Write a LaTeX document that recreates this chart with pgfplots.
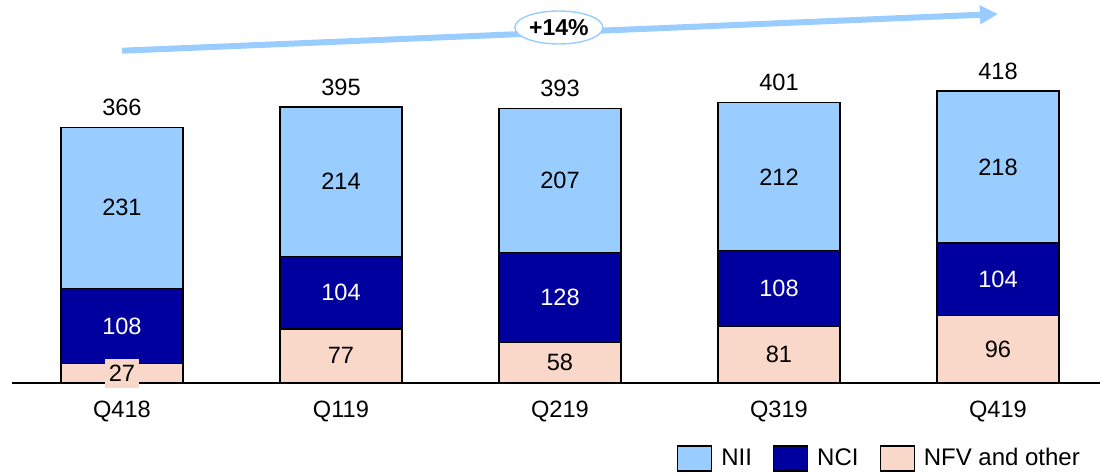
\documentclass[border=0pt]{standalone}
\usepackage{pgfplots}
\pgfplotsset{compat=1.18}
\usepackage{pgfplotstable}
\usepackage{fontspec}
\setmainfont{Liberation Sans}
\usetikzlibrary{arrows.meta,shapes.geometric}
\definecolor{nii}{RGB}{153,204,255}
\definecolor{nci}{RGB}{0,0,158}
\definecolor{nfv}{RGB}{250,216,201}
\definecolor{arr}{RGB}{153,204,255}
\pgfplotstableread{
x nfv nci nii total
0 27 108 231 366
1 77 104 214 395
2 58 128 207 393
3 81 108 212 401
4 96 104 218 418
}\datatable
\newcommand\lbl{\fontsize{11.8}{13}\selectfont}
\pgfplotsset{
  common/.style={
    at={(6pt,46.15pt)}, anchor=south west,
    scale only axis, width=544pt, height=191.35pt,
    xmin=-0.502, xmax=4.466, ymin=0, ymax=548.3,
  },
}
\begin{document}
\begin{tikzpicture}
\path[use as bounding box] (0,0) rectangle (550pt,237.5pt);
\begin{axis}[common,
  ybar stacked, bar width=61pt,
  axis x line=bottom, axis y line=none,
  x axis line style={-, line width=1pt},
  xtick={0,...,4}, xticklabels={Q418,Q119,Q219,Q319,Q419},
  major tick length=0pt,
  xticklabel style={anchor=center, yshift=-14.5pt, font=\lbl},
  legend columns=3, reverse legend,
  legend style={at={(0.611,-0.198)}, anchor=west, draw=none, fill=none, inner sep=0pt,
    font=\fontsize{12}{14}\selectfont,
    /tikz/every odd column/.append style={column sep=2.5pt},
    /tikz/every even column/.append style={column sep=8.5pt}},
  legend image code/.code={\draw[#1, line width=0.6pt] (0pt,-6.25pt) rectangle (17pt,6.25pt);},
]
\addplot[fill=nfv, draw=black, line width=0.6pt] table[x=x,y=nfv]{\datatable};
\addlegendentry{NFV and other}
\addplot[fill=nci, draw=black, line width=0.6pt] table[x=x,y=nci]{\datatable};
\addlegendentry{NCI}
\addplot[fill=nii, draw=black, line width=0.6pt] table[x=x,y=nii]{\datatable};
\addlegendentry{NII}
\end{axis}
\begin{axis}[common, hide axis, clip=false]
\addplot[draw=none, mark=none, nodes near coords, point meta=explicit symbolic,
  nodes near coords align=center,
  every node near coord/.append style={anchor=center, font=\lbl, fill=nfv, inner xsep=2pt, inner ysep=0pt, minimum height=14.5pt}]
  table[x=x, y expr={\thisrow{nfv}/2}, meta=nfv]{\datatable};
\addplot[draw=none, mark=none, nodes near coords, point meta=explicit symbolic,
  nodes near coords align=center,
  every node near coord/.append style={anchor=center, font=\lbl, text=white}]
  table[x=x, y expr={\thisrow{nfv}+\thisrow{nci}/2}, meta=nci]{\datatable};
\addplot[draw=none, mark=none, nodes near coords, point meta=explicit symbolic,
  nodes near coords align=center,
  every node near coord/.append style={anchor=center, font=\lbl}]
  table[x=x, y expr={\thisrow{nfv}+\thisrow{nci}+\thisrow{nii}/2}, meta=nii]{\datatable};
\addplot[draw=none, mark=none, nodes near coords, point meta=explicit symbolic,
  nodes near coords align=center,
  every node near coord/.append style={anchor=center, font=\lbl, yshift=10pt}]
  table[x=x, y=total, meta=total]{\datatable};
\draw[arr, line width=3pt, -{Triangle[length=9pt,width=9pt]}] (axis cs:0,475.6) -- (axis cs:4,528.2);
\node[ellipse, draw=arr, line width=0.7pt, fill=white, minimum width=44pt, minimum height=16.5pt, inner sep=0pt,
  font=\bfseries\fontsize{11.5}{13}\selectfont] at (axis cs:1.995,508.9) {+14\%};
\end{axis}
\end{tikzpicture}
\end{document}
